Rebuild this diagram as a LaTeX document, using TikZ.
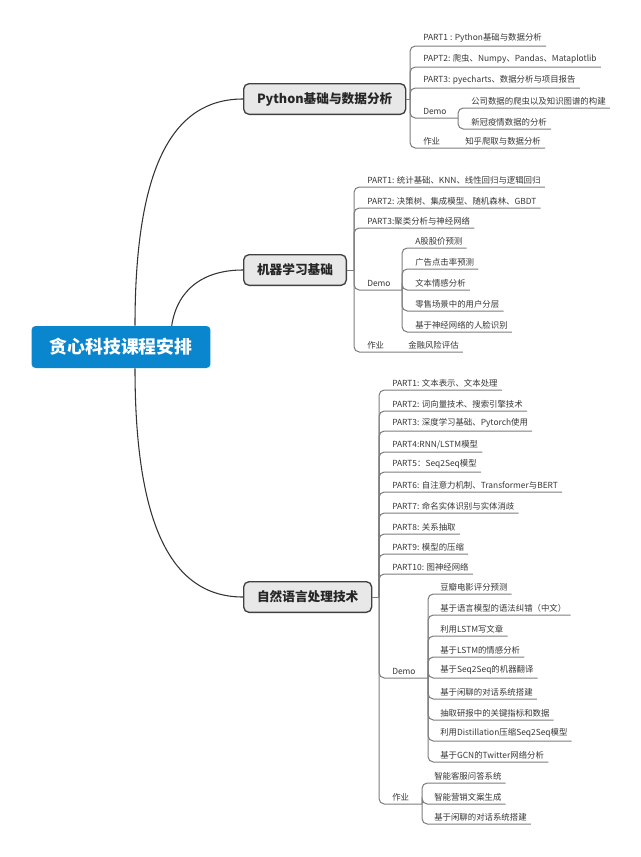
\documentclass[tikz,border=0pt]{standalone}
\usepackage{fontspec}
\setmainfont{Noto Sans CJK SC}
\usetikzlibrary{positioning,backgrounds}
\definecolor{rootblue}{RGB}{10,134,206}
\definecolor{boxgray}{RGB}{232,232,232}
\definecolor{linegray}{RGB}{125,125,125}
\definecolor{textgray}{RGB}{55,55,55}

\begin{document}
\begin{tikzpicture}[x=0.75pt, y=-0.75pt,
  root/.style={rectangle, rounded corners=3pt, fill=rootblue, text=white, inner xsep=13.5pt, minimum height=31.5pt, font=\fontsize{13.4}{16}\selectfont\bfseries},
  topic/.style={rectangle, rounded corners=4pt, draw=black!75, line width=1pt, fill=boxgray, anchor=west, inner xsep=10pt, minimum height=23pt, text=black!85, font=\fontsize{9.5}{11}\selectfont\bfseries},
  leaf/.style={anchor=south west, inner xsep=3pt, inner ysep=2.2pt, text=textgray, font=\fontsize{6.3}{7.5}\selectfont},
  link/.style={draw=black!80, line width=0.8pt},
  tree/.style={draw=linegray, line width=0.75pt, rounded corners=4pt}
]
\useasboundingbox (0,0) rectangle (640,857);

% Central topic
\node[root] (root) at (121,347) {贪心科技课程安排};

% Main topics
\node[topic] (py) at (243,99) {Python基础与数据分析};
\node[topic] (ml) at (243,270) {机器学习基础};
\node[topic] (nlp) at (243,597) {自然语言处理技术};

% Links from the centre
\draw[link] ([xshift=10.5pt]root.north) .. controls +(0,-160) and +(-70,0) .. (py.west);
\draw[link] ([xshift=38pt]root.north) .. controls +(6,-38) and +(-38,0) .. (ml.west);
\draw[link] ([xshift=10.5pt]root.south) .. controls +(0,160) and +(-70,0) .. (nlp.west);

% Python topic
\coordinate (pybar) at (410,99);
\node[leaf] (pyp1) at (419,46) {PART1 : Python基础与数据分析};
\node[leaf] (pyp2) at (419,67) {PAPT2: 爬虫、Numpy、Pandas、Mataplotlib};
\node[leaf] (pyp3) at (419,88) {PART3: pyecharts、数据分析与项目报告};
\node[leaf] (pydemo) at (419,118) {Demo};
\coordinate (pydbar) at (458,118);
\node[leaf] (pyd1) at (467,108) {公司数据的爬虫以及知识图谱的构建};
\node[leaf] (pyd2) at (467,129) {新冠疫情数据的分析};
\node[leaf] (pyhw) at (419,148) {作业};
\node[leaf] (pyhw1) at (461,148) {知乎爬取与数据分析};

\draw[tree] (py.east) -- (pybar);
\draw[tree] (pybar) |- (pyp1.south east);
\draw[tree] (pybar) |- (pyp2.south east);
\draw[tree] (pybar) |- (pyp3.south east);
\draw[tree] (pybar) |- (pydbar);
\draw[tree] (pydbar) |- (pyd1.south east);
\draw[tree] (pydbar) |- (pyd2.south east);
\draw[tree] (pybar) |- (pyhw1.south east);

% Machine learning topic
\coordinate (mlbar) at (354,270);
\node[leaf] (mlp1) at (363,187) {PART1: 统计基础、KNN、线性回归与逻辑回归};
\node[leaf] (mlp2) at (363,208) {PART2: 决策树、集成模型、随机森林、GBDT};
\node[leaf] (mlp3) at (363,228) {PART3:聚类分析与神经网络};
\node[leaf] (mldemo) at (363,290) {Demo};
\coordinate (mldbar) at (402,290);
\node[leaf] (mld1) at (411,248) {A股股价预测};
\node[leaf] (mld2) at (411,269) {广告点击率预测};
\node[leaf] (mld3) at (411,290) {文本情感分析};
\node[leaf] (mld4) at (411,311) {零售场景中的用户分层};
\node[leaf] (mld5) at (411,332) {基于神经网络的人脸识别};
\node[leaf] (mlhw) at (363,352) {作业};
\node[leaf] (mlhw1) at (404,352) {金融风险评估};

\draw[tree] (ml.east) -- (mlbar);
\draw[tree] (mlbar) |- (mlp1.south east);
\draw[tree] (mlbar) |- (mlp2.south east);
\draw[tree] (mlbar) |- (mlp3.south east);
\draw[tree] (mlbar) |- (mldbar);
\draw[tree] (mldbar) |- (mld1.south east);
\draw[tree] (mldbar) |- (mld2.south east);
\draw[tree] (mldbar) |- (mld3.south east);
\draw[tree] (mldbar) |- (mld4.south east);
\draw[tree] (mldbar) |- (mld5.south east);
\draw[tree] (mlbar) |- (mlhw1.south east);

% NLP topic
\coordinate (nlpbar) at (379,597);
\node[leaf] (nlpp1) at (388,390) {PART1: 文本表示、文本处理};
\node[leaf] (nlpp2) at (388,411) {PART2: 词向量技术、搜索引擎技术};
\node[leaf] (nlpp3) at (388,431) {PART3: 深度学习基础、Pytorch使用};
\node[leaf] (nlpp4) at (388,452) {PART4:RNN/LSTM模型};
\node[leaf] (nlpp5) at (388,472) {PART5：Seq2Seq模型};
\node[leaf] (nlpp6) at (388,492) {PART6: 自注意力机制、Transformer与BERT};
\node[leaf] (nlpp7) at (388,513) {PART7: 命名实体识别与实体消歧};
\node[leaf] (nlpp8) at (388,534) {PART8: 关系抽取};
\node[leaf] (nlpp9) at (388,554) {PART9: 模型的压缩};
\node[leaf] (nlpp10) at (388,574) {PART10: 图神经网络};
\node[leaf] (nlpdemo) at (388,678) {Demo};
\coordinate (nlpdbar) at (428,678);
\node[leaf] (nlpd1) at (436,594) {豆瓣电影评分预测};
\node[leaf] (nlpd2) at (436,615) {基于语言模型的语法纠错（中文）};
\node[leaf] (nlpd3) at (436,636) {利用LSTM写文章};
\node[leaf] (nlpd4) at (436,657) {基于LSTM的情感分析};
\node[leaf] (nlpd5) at (436,678) {基于Seq2Seq的机器翻译};
\node[leaf] (nlpd6) at (436,699) {基于闲聊的对话系统搭建};
\node[leaf] (nlpd7) at (436,720) {抽取研报中的关键指标和数据};
\node[leaf] (nlpd8) at (436,741) {利用Distillation压缩Seq2Seq模型};
\node[leaf] (nlpd9) at (436,762) {基于GCN的Twitter网络分析};
\node[leaf] (nlphw) at (388,804) {作业};
\coordinate (nlphbar) at (422,804);
\node[leaf] (nlph1) at (430,783) {智能客服问答系统};
\node[leaf] (nlph2) at (430,804) {智能营销文案生成};
\node[leaf] (nlph3) at (430,824) {基于闲聊的对话系统搭建};

\draw[tree] (nlp.east) -- (nlpbar);
\draw[tree] (nlpbar) |- (nlpp1.south east);
\draw[tree] (nlpbar) |- (nlpp2.south east);
\draw[tree] (nlpbar) |- (nlpp3.south east);
\draw[tree] (nlpbar) |- (nlpp4.south east);
\draw[tree] (nlpbar) |- (nlpp5.south east);
\draw[tree] (nlpbar) |- (nlpp6.south east);
\draw[tree] (nlpbar) |- (nlpp7.south east);
\draw[tree] (nlpbar) |- (nlpp8.south east);
\draw[tree] (nlpbar) |- (nlpp9.south east);
\draw[tree] (nlpbar) |- (nlpp10.south east);
\draw[tree] (nlpbar) |- (nlpdbar);
\draw[tree] (nlpdbar) |- (nlpd1.south east);
\draw[tree] (nlpdbar) |- (nlpd2.south east);
\draw[tree] (nlpdbar) |- (nlpd3.south east);
\draw[tree] (nlpdbar) |- (nlpd4.south east);
\draw[tree] (nlpdbar) |- (nlpd5.south east);
\draw[tree] (nlpdbar) |- (nlpd6.south east);
\draw[tree] (nlpdbar) |- (nlpd7.south east);
\draw[tree] (nlpdbar) |- (nlpd8.south east);
\draw[tree] (nlpdbar) |- (nlpd9.south east);
\draw[tree] (nlpbar) |- (nlphbar);
\draw[tree] (nlphbar) |- (nlph1.south east);
\draw[tree] (nlphbar) |- (nlph2.south east);
\draw[tree] (nlphbar) |- (nlph3.south east);

\end{tikzpicture}
\end{document}
